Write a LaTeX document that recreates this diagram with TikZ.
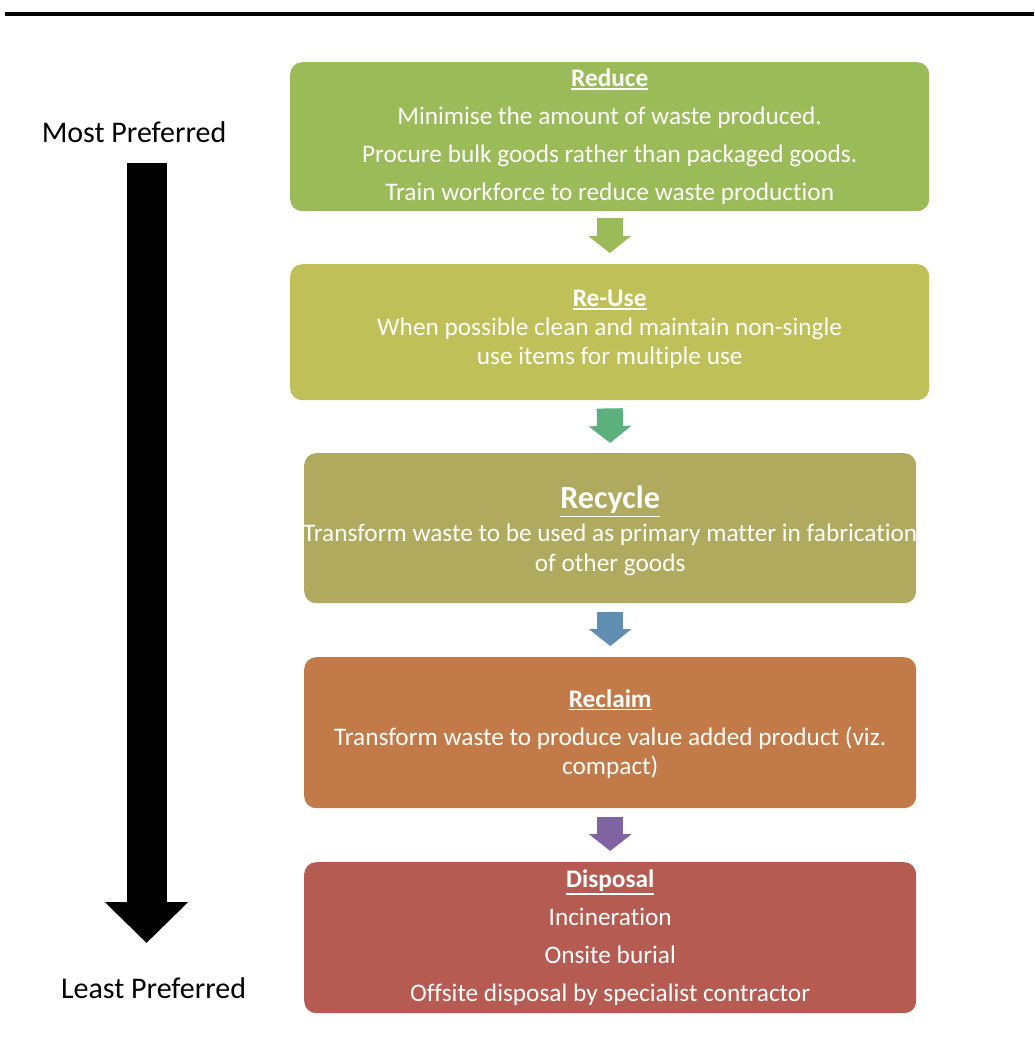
\documentclass[tikz,border=0pt]{standalone}
\usepackage{fontspec}
\setmainfont{Carlito}[Ligatures=NoCommon]
\usetikzlibrary{arrows.meta}

\definecolor{cReduce}{RGB}{155,187,89}
\definecolor{cReuse}{RGB}{191,192,88}
\definecolor{cRecycle}{RGB}{176,170,95}
\definecolor{cReclaim}{RGB}{194,123,72}
\definecolor{cDisposal}{RGB}{182,91,82}
\definecolor{aGreen}{RGB}{155,187,89}
\definecolor{aTeal}{RGB}{91,176,124}
\definecolor{aBlue}{RGB}{96,142,176}
\definecolor{aPurple}{RGB}{128,100,162}

% underlined heading whose rule does not change the line spacing
\newcommand\hdl[1]{\setbox0\hbox{#1}\rlap{\copy0}\smash{\rule[\dimexpr-\dp0-3pt\relax]{\wd0}{1.3pt}}}

\begin{document}
\begin{tikzpicture}[x=1pt,y=-1pt,
  stage/.style={rounded corners=12pt, inner sep=0pt, anchor=north west},
  words/.style={inner sep=0pt, text=white, align=center,
    font=\fontsize{25.3}{29}\selectfont},
  flow/.style={line width=26pt, draw=#1,
    -{Triangle[width=42pt,length=17pt,fill=#1]}},
  side/.style={font=\fontsize{30}{34}\selectfont, text=black, inner sep=0pt}]
\useasboundingbox (0,0) rectangle (1034,1059);

% top rule
\coordinate (ruleL) at (5,14);
\coordinate (ruleR) at (1034,14);
\draw[line width=4pt] (ruleL) -- (ruleR);

% stages of the hierarchy
\node[stage, fill=cReduce, minimum width=639pt, minimum height=149pt] (reduce) at (290,62) {};
\node[words] (reduceText) at (reduce.center)
  {\hdl{\bfseries Reduce}\\[9pt]
   Minimise the amount of waste produced.\\[9pt]
   Procure bulk goods rather than packaged goods.\\[9pt]
   Train workforce to reduce waste production};

\node[stage, fill=cReuse, minimum width=639pt, minimum height=136pt] (reuse) at (290,264) {};
\node[words, yshift=3pt] (reuseText) at (reuse.center)
  {\hdl{\bfseries Re-Use}\\
   When possible clean and maintain non-single\\
   use items for multiple use};

\node[stage, fill=cRecycle, minimum width=612pt, minimum height=150pt] (recycle) at (304,453) {};
\node[words, yshift=-3pt] (recycleText) at (recycle.center)
  {{\fontsize{32.2}{34}\selectfont\hdl{\bfseries Recycle}}\\[4pt]
   Transform waste to be used as primary matter in fabrication\\[1pt]
   of other goods};

\node[stage, fill=cReclaim, minimum width=612pt, minimum height=151pt] (reclaim) at (304,657) {};
\node[words, yshift=-1pt] (reclaimText) at (reclaim.center)
  {\hdl{\bfseries Reclaim}\\[9pt]
   Transform waste to produce value added product (viz.\\
   compact)};

\node[stage, fill=cDisposal, minimum width=612pt, minimum height=151pt] (disposal) at (304,862) {};
\node[words] (disposalText) at (disposal.center)
  {\hdl{\bfseries Disposal}\\[9pt]
   Incineration\\[9pt]
   Onsite burial\\[9pt]
   Offsite disposal by specialist contractor};

% block arrows between the stages
\draw[flow=aGreen]  ([yshift=-7pt]reduce.south)  -- ([yshift=11pt]reuse.north);
\draw[flow=aTeal]   ([yshift=-8pt]reuse.south)   -- ([yshift=10pt]recycle.north);
\draw[flow=aBlue]   ([yshift=-9pt]recycle.south) -- ([yshift=11pt]reclaim.north);
\draw[flow=aPurple] ([yshift=-9pt]reclaim.south) -- ([yshift=11pt]disposal.north);

% preference scale
\node[side] (most) at (134,132) {Most Preferred};
\node[side] (least) at (153.5,988) {Least Preferred};
\coordinate (scaleTop) at (146.5,163);
\coordinate (scaleTip) at (146.5,943);
\draw[line width=40pt, -{Triangle[width=81pt,length=41pt]}] (scaleTop) -- (scaleTip);
\end{tikzpicture}
\end{document}
